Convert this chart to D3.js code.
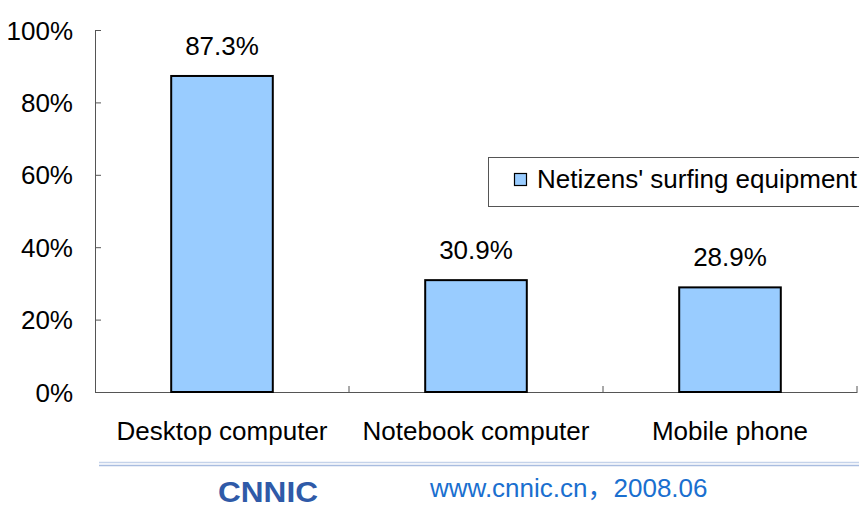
<!DOCTYPE html>
<html><head><meta charset="utf-8">
<script src="https://cdn.jsdelivr.net/npm/d3@7"></script>
<style>body{margin:0;background:#fff}svg{display:block;font-family:"Liberation Sans",Arial,"Noto Sans CJK SC",sans-serif}</style>
</head><body><svg id="c" width="859" height="509"></svg>
<script>
const categories = ["Desktop computer", "Notebook computer", "Mobile phone"];
const values = [87.3, 30.9, 28.9];
const yTicks = [0, 20, 40, 60, 80, 100];
const seriesName = "Netizens' surfing equipment";
const footerText = "www.cnnic.cn，2008.06";
const logoText = "CNNIC";

const FONT = "Liberation Sans, Arial, Noto Sans CJK SC, sans-serif";
const FS = 26;
const svg = d3.select("#c");
const x = d3.scaleBand().domain(categories).range([95, 857]).paddingInner(0).paddingOuter(0);
const y = d3.scaleLinear().domain([0, 100]).range([392, 30]);
const barW = x.bandwidth() * 0.4;

// y axis
const yAxis = svg.append("g").attr("transform", "translate(95,0)")
  .call(d3.axisLeft(y).tickValues(yTicks).tickFormat(d => d + "%").tickSizeInner(-6).tickSizeOuter(0).tickPadding(22));
yAxis.select(".domain").attr("stroke", "#555");
yAxis.selectAll(".tick line").attr("stroke", "#555");
yAxis.selectAll(".tick text").attr("font-size", FS).attr("fill", "#000").attr("font-family", FONT).attr("dy", "0.35em");

// x axis
const xAxis = svg.append("g").attr("transform", "translate(0,392)")
  .call(d3.axisBottom(x).tickSize(0).tickPadding(0));
xAxis.select(".domain").attr("stroke", "#555");
xAxis.selectAll(".tick text").attr("font-size", FS).attr("fill", "#000").attr("font-family", FONT)
  .attr("y", 48).attr("dy", "0");
// category separator ticks
svg.append("g").selectAll("line").data(categories)
  .join("line")
  .attr("x1", d => x(d) + x.step()).attr("x2", d => x(d) + x.step())
  .attr("y1", 392).attr("y2", 386).attr("stroke", "#555");

// bars
svg.append("g").selectAll("rect").data(values).join("rect")
  .attr("x", (d, i) => x(categories[i]) + (x.bandwidth() - barW) / 2)
  .attr("y", d => y(d)).attr("width", barW).attr("height", d => y(0) - y(d))
  .attr("fill", "#99ccff").attr("stroke", "#000").attr("stroke-width", 2);

// value labels
svg.append("g").selectAll("text").data(values).join("text")
  .attr("x", (d, i) => x(categories[i]) + x.bandwidth() / 2)
  .attr("y", d => y(d) - 21).attr("text-anchor", "middle")
  .attr("font-size", FS).attr("font-family", FONT).text(d => d.toFixed(1) + "%");

// legend
const lg = svg.append("g");
lg.append("rect").attr("x", 488.5).attr("y", 157.5).attr("width", 380).attr("height", 49)
  .attr("fill", "#fff").attr("stroke", "#555").attr("stroke-width", 1);
lg.append("rect").attr("x", 514.5).attr("y", 173.5).attr("width", 12).attr("height", 12)
  .attr("fill", "#99ccff").attr("stroke", "#000").attr("stroke-width", 1.2);
lg.append("text").attr("x", 537).attr("y", 188).attr("font-size", FS).attr("font-family", FONT).text(seriesName);

// footer lines
svg.append("line").attr("x1", 99).attr("x2", 859).attr("y1", 462.5).attr("y2", 462.5).attr("stroke", "#c5d3ea").attr("stroke-width", 1.5);
svg.append("line").attr("x1", 99).attr("x2", 859).attr("y1", 465.5).attr("y2", 465.5).attr("stroke", "#a9bde0").attr("stroke-width", 1.5);

// logo
svg.append("text").attr("x", 218).attr("y", 502)
  .attr("font-size", 29).attr("font-weight", "bold").attr("fill", "#2f5aa8")
  .attr("font-family", "Liberation Sans Narrow, Liberation Sans, sans-serif")
  .attr("textLength", 100).attr("lengthAdjust", "spacingAndGlyphs").text(logoText);

// footer text
svg.append("text").attr("x", 430).attr("y", 497).attr("font-size", FS).attr("font-family", FONT)
  .attr("fill", "#1a6fcf").text(footerText);
</script></body></html>
